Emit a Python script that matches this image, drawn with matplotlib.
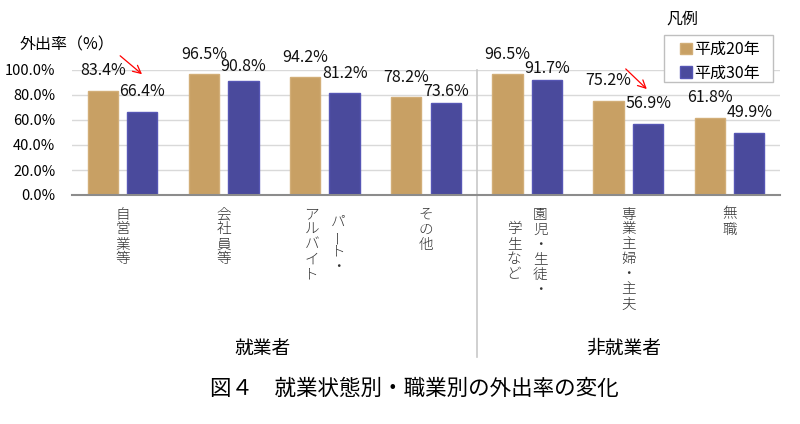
import matplotlib
matplotlib.use('Agg')
import matplotlib.pyplot as plt
import matplotlib.transforms as mtransforms
from matplotlib.lines import Line2D
from matplotlib.patches import Rectangle

plt.rcParams['font.family'] = ['Noto Sans CJK JP', 'DejaVu Sans']

# データ
categories = ['自営業等', '会社員等', 'パート・アルバイト', 'その他', '園児・生徒・学生など', '専業主婦・主夫', '無職']
# 縦書きラベル（右の列から左の列へ）
label_cols = [['自営業等'], ['会社員等'], ['パート・', 'アルバイト'], ['その他'],
              ['園児・生徒・', '学生など'], ['専業主婦・主夫'], ['無職']]
h20 = [83.4, 96.5, 94.2, 78.2, 96.5, 75.2, 61.8]
h30 = [66.4, 90.8, 81.2, 73.6, 91.7, 56.9, 49.9]
series_names = ['平成20年', '平成30年']
yticks = [0, 20, 40, 60, 80, 100]

c20 = '#C8A064'
c30 = '#4A4A9C'

# ラベルの位置（棒の上からの距離, pt）
dy20 = [14.4] * 7
dy30 = [14.4, 10.8, 14.4, 8.6, 8.6, 14.4, 14.4]

W, H = 800, 424
fig = plt.figure(figsize=(8, 4.24), dpi=100)
ax = fig.add_axes([72 / W, 1 - 195 / H, 708 / W, 125 / H])

x = list(range(len(categories)))
off = 0.195
bw = 0.30
b1 = ax.bar([i - off for i in x], h20, bw, color=c20, edgecolor='#D2AE78', linewidth=1, label=series_names[0], zorder=3)
b2 = ax.bar([i + off for i in x], h30, bw, color=c30, edgecolor='#5656B4', linewidth=1, label=series_names[1], zorder=3)

for bars, vals, dys in ((b1, h20, dy20), (b2, h30, dy30)):
    for r, v, d in zip(bars, vals, dys):
        ax.annotate(f'{v:.1f}%', (r.get_x() + r.get_width() / 2, v), xytext=(0, d),
                    textcoords='offset points', ha='center', va='center', fontsize=11.5,
                    color='#111111', annotation_clip=False)

ax.set_xlim(-0.5, len(categories) - 0.5)
ax.set_ylim(0, 100)
ax.set_yticks(yticks)
ax.set_yticklabels([f'{t:.1f}%' for t in yticks], fontsize=10.5)
ax.tick_params(axis='y', length=0, pad=12)
ax.set_xticks([])
ax.grid(axis='y', color='#D9D9D9', linewidth=1, zorder=0)
for s in ['left', 'right', 'top']:
    ax.spines[s].set_visible(False)
ax.spines['bottom'].set_color('#8C8C8C')
ax.spines['bottom'].set_linewidth(1.5)
ax.spines['bottom'].set_zorder(4)

# x はデータ座標、y は図座標
tr = mtransforms.blended_transform_factory(ax.transData, fig.transFigure)

def fy(py):
    return 1 - py / H

# 縦書きのカテゴリラベル
pitch = 15
top = 207
for i, cols in enumerate(label_cols):
    n_max = max(len(c) for c in cols)
    ncol = len(cols)
    for j, col in enumerate(cols):
        dx = 0 if ncol == 1 else (0.13 if j == 0 else -0.13)
        start = top + (n_max - len(col)) / 2 * pitch
        for k, ch in enumerate(col):
            rot = 90 if ch == 'ー' else 0
            ax.text(i + dx, fy(start + pitch / 2 + k * pitch), ch, transform=tr,
                    ha='center', va='center', fontsize=10.5, rotation=rot,
                    color='#333333', fontweight='light')

# 区切り線
ax.add_line(Line2D([3.5, 3.5], [fy(70), fy(357)], transform=tr, color='#C8C8C8',
                   linewidth=1.2, clip_on=False))

ax.text(1.38, fy(348), '就業者', transform=tr, ha='center', va='center', fontsize=13.5)
ax.text(4.95, fy(348), '非就業者', transform=tr, ha='center', va='center', fontsize=13.5)

# 矢印
arr = dict(arrowstyle='->', color='red', lw=0.9, mutation_scale=14)
ax.annotate('', xy=(0.213, 95.2), xytext=(-0.045, 112.8), arrowprops=arr, annotation_clip=False)
ax.annotate('', xy=(5.203, 83.2), xytext=(4.955, 102.4), arrowprops=arr, annotation_clip=False)

fig.text(67 / W, fy(45), '外出率（%）', ha='center', va='center', fontsize=11.5)

# 凡例
fig.text(682 / W, fy(19), '凡例', ha='center', va='center', fontsize=11.5)
ax.add_patch(Rectangle((664 / W, fy(82)), 109 / W, 47 / H, transform=fig.transFigure,
                       facecolor='white', edgecolor='#BFBFBF', linewidth=1, zorder=5, clip_on=False))
leg = ax.legend(loc='upper left', bbox_to_anchor=(677 / W, fy(38)), bbox_transform=fig.transFigure,
                borderaxespad=0, frameon=False, fontsize=11.5,
                handlelength=0.75, handleheight=0.75, handletextpad=0.15, labelspacing=0.4,
                borderpad=0.2)
leg.set_zorder(6)

fig.text(414 / W, fy(389), '図４　就業状態別・職業別の外出率の変化', ha='center', va='center', fontsize=15.5)

fig.savefig('out.png', dpi=100)
